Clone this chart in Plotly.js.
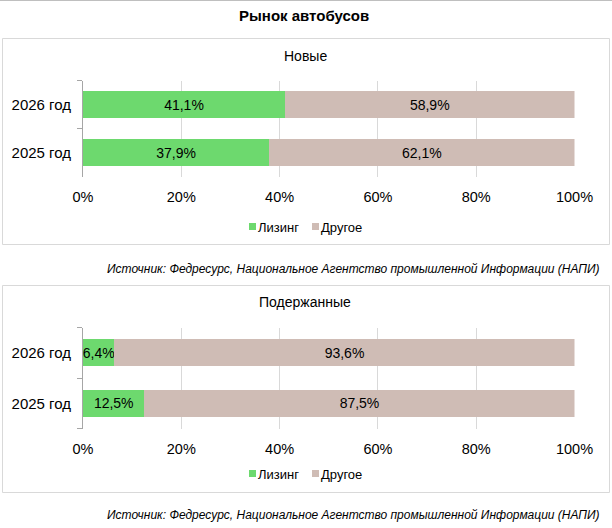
<!DOCTYPE html>
<html>
<head>
<meta charset="utf-8">
<script src="https://cdn.plot.ly/plotly-3.0.1.min.js"></script>
<style>html,body{margin:0;padding:0;background:#fff}#chart{width:612px;height:528px}</style>
</head>
<body>
<div id="chart"></div>
<script>
// ---- data ----
const chartTitle = 'Рынок автобусов';
const panelTitles = ['Новые', 'Подержанные'];
const categories = ['2025 год', '2026 год'];
const seriesNames = ['Лизинг', 'Другое'];
const newLeasing = [37.9, 41.1];
const newOther = [62.1, 58.9];
const usedLeasing = [12.5, 6.4];
const usedOther = [87.5, 93.6];
const xTickVals = [0, 20, 40, 60, 80, 100];
const xTickText = ['0%', '20%', '40%', '60%', '80%', '100%'];
const sourceText = 'Источник: Федресурс, Национальное Агентство промышленной Информации (НАПИ)';

// ---- styles ----
const W = 612, H = 528;
const px = x => x / W;
const py = y => 1 - y / H;
const colors = ['#6dd96e', '#cfbcb5'];
const FONT = 'Liberation Sans, Arial, sans-serif';

function barTrace(x, name, color, xa, ya, width) {
  return {
    type: 'bar', orientation: 'h', x: x, y: categories, name: name,
    xaxis: xa, yaxis: ya, width: width,
    marker: {color: color, line: {width: 0}},
    texttemplate: '%{x:.1f}%', textposition: 'inside', insidetextanchor: 'middle',
    constraintext: 'none', cliponaxis: false,
    textfont: {family: FONT, size: 14, color: '#000'},
    hoverinfo: 'skip', showlegend: false
  };
}

const traces = [
  barTrace(newLeasing, seriesNames[0], colors[0], 'x', 'y', 0.57),
  barTrace(newOther, seriesNames[1], colors[1], 'x', 'y', 0.57),
  barTrace(usedLeasing, seriesNames[0], colors[0], 'x2', 'y2', 0.54),
  barTrace(usedOther, seriesNames[1], colors[1], 'x2', 'y2', 0.54)
];

function xAxis(anchor) {
  return {
    domain: [px(83), px(574.5)], range: [0, 100], anchor: anchor,
    tickmode: 'array', tickvals: xTickVals, ticktext: xTickText,
    showgrid: true, gridcolor: '#d9d9d9', gridwidth: 1,
    zeroline: false, showline: false, ticks: '', ticklabelstandoff: 10,
    tickfont: {family: FONT, size: 14.5, color: '#000'}, fixedrange: true
  };
}
function yAxis(anchor, dom) {
  return {
    domain: dom, anchor: anchor, type: 'category', categoryorder: 'array', categoryarray: categories,
    showline: true, linecolor: '#a6a6a6', linewidth: 1, ticks: 'outside', tickson: 'boundaries',
    ticklen: 5, tickcolor: '#a6a6a6', showgrid: false, ticklabelstandoff: 8,
    tickfont: {family: FONT, size: 15, color: '#000'}, fixedrange: true
  };
}

const shapes = [
  {type: 'line', xref: 'paper', yref: 'paper', x0: 0, x1: 1, y0: py(0.5), y1: py(0.5), line: {color: '#bfbfbf', width: 1}},
  {type: 'rect', xref: 'paper', yref: 'paper', x0: px(2.5), x1: px(609.5), y0: py(244.5), y1: py(38.5), line: {color: '#d9d9d9', width: 1}},
  {type: 'rect', xref: 'paper', yref: 'paper', x0: px(2.5), x1: px(609.5), y0: py(492.5), y1: py(285.5), line: {color: '#d9d9d9', width: 1}}
];
const annotations = [
  {text: '<b>' + chartTitle + '</b>', xref: 'paper', yref: 'paper', x: px(304), y: py(15), showarrow: false,
   xanchor: 'center', yanchor: 'middle', font: {family: FONT, size: 15, color: '#000'}},
  {text: panelTitles[0], xref: 'paper', yref: 'paper', x: px(305), y: py(56), showarrow: false,
   xanchor: 'center', yanchor: 'middle', font: {family: FONT, size: 14, color: '#000'}},
  {text: panelTitles[1], xref: 'paper', yref: 'paper', x: px(305), y: py(302), showarrow: false,
   xanchor: 'center', yanchor: 'middle', font: {family: FONT, size: 14, color: '#000'}},
  {text: '<i>' + sourceText + '</i>', xref: 'paper', yref: 'paper', x: px(602), y: py(269), showarrow: false,
   xanchor: 'right', yanchor: 'middle', font: {family: FONT, size: 12, color: '#000'}},
  {text: '<i>' + sourceText + '</i>', xref: 'paper', yref: 'paper', x: px(602), y: py(515), showarrow: false,
   xanchor: 'right', yanchor: 'middle', font: {family: FONT, size: 12, color: '#000'}}
];
// custom legends (one per panel)
[227, 474].forEach(function (ly) {
  const sq = [[249, 256], [312, 319]];
  const tx = [258, 321];
  seriesNames.forEach(function (nm, i) {
    shapes.push({type: 'rect', xref: 'paper', yref: 'paper', x0: px(sq[i][0]), x1: px(sq[i][1]),
      y0: py(ly + 3), y1: py(ly - 4), fillcolor: colors[i], line: {width: 0}});
    annotations.push({text: nm, xref: 'paper', yref: 'paper', x: px(tx[i]), y: py(ly), showarrow: false,
      xanchor: 'left', yanchor: 'middle', xshift: -2, font: {family: FONT, size: 13, color: '#000'}});
  });
});

const layout = {
  width: W, height: H, margin: {l: 0, r: 0, t: 0, b: 0},
  paper_bgcolor: '#fff', plot_bgcolor: '#fff',
  barmode: 'stack', separators: ', ', showlegend: false,
  xaxis: xAxis('y'), yaxis: yAxis('x', [py(176.5), py(80.5)]),
  xaxis2: xAxis('y2'), yaxis2: yAxis('x2', [py(428.5), py(327.5)]),
  shapes: shapes, annotations: annotations,
  font: {family: FONT, color: '#000'}
};

Plotly.newPlot('chart', traces, layout, {staticPlot: true, displayModeBar: false});
</script>
</body>
</html>
